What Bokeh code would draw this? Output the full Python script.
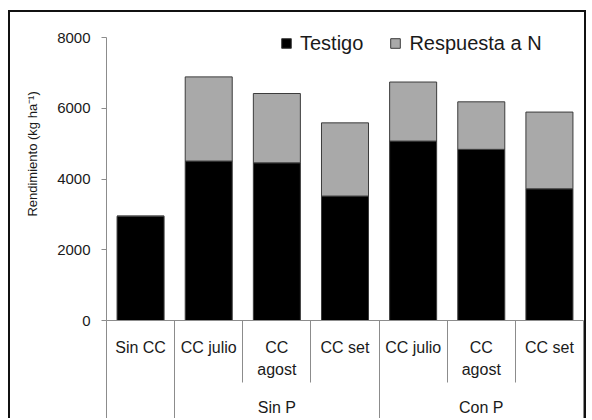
from bokeh.plotting import figure
from bokeh.models import ColumnDataSource, LinearAxis, FixedTicker, Range1d, Legend, LegendItem
from bokeh.embed import file_html
from bokeh.resources import INLINE

# ---- data ----
categories = ["Sin CC", "CC julio", "CC\nagost", "CC set", "CC julio", "CC\nagost", "CC set"]
groups = ["", "Sin P", "Con P"]
group_sizes = [1, 3, 3]
testigo = [2950, 4510, 4460, 3520, 5075, 4840, 3725]
respuesta = [0, 2380, 1960, 2070, 1670, 1345, 2170]
y_ticks = [0, 2000, 4000, 6000, 8000]
series_names = ["Testigo", "Respuesta a N"]
y_label = "Rendimiento (kg ha⁻¹)"

FONT = "Liberation Sans"
TXT = "#1a1a1a"
GRID = "#8c8c8c"

n = len(categories)
xs = list(range(1, n + 1))
source = ColumnDataSource(dict(x=xs, testigo=testigo, respuesta=respuesta))

p = figure(width=578, height=408, x_range=Range1d(0.5, n + 0.5), y_range=Range1d(0, 8400),
           output_backend="svg", toolbar_location=None,
           x_axis_location=None, y_axis_location=None,
           min_border_left=96, min_border_right=5, min_border_top=11, min_border_bottom=100)
p.grid.visible = False
p.outline_line_color = None
p.background_fill_color = "white"
p.border_fill_color = "white"
p.styles = {"margin-left": "8px", "margin-top": "10px",
            "border-top": "2px solid #111", "border-left": "2px solid #111",
            "border-right": "2px solid #111"}

rs = p.vbar_stack(["testigo", "respuesta"], x="x", width=0.69, source=source,
                  fill_color=["black", "#a9a9a9"], line_color="#3c3c3c", line_width=1)

# y axis (label shifted upward with leading no-break spaces, as in the reference)
yaxis = LinearAxis(ticker=FixedTicker(ticks=y_ticks), axis_label="\u00a0" * 10 + y_label,
                   bounds=(y_ticks[0], y_ticks[-1]))
yaxis.axis_line_color = GRID
yaxis.major_tick_line_color = GRID
yaxis.major_tick_out = 5
yaxis.major_tick_in = 0
yaxis.minor_tick_line_color = None
yaxis.major_label_text_font = FONT
yaxis.major_label_text_font_size = "15px"
yaxis.major_label_text_color = TXT
yaxis.major_label_standoff = 11
yaxis.axis_label_text_font = FONT
yaxis.axis_label_text_font_size = "13px"
yaxis.axis_label_text_font_style = "normal"
yaxis.axis_label_text_color = TXT
yaxis.axis_label_standoff = 14
p.add_layout(yaxis, "left")

# category axis
boundaries = [0.5 + i for i in range(n + 1)]
xaxis1 = LinearAxis(ticker=FixedTicker(ticks=xs, minor_ticks=boundaries),
                    major_label_overrides={x: c for x, c in zip(xs, categories)})
xaxis1.axis_line_color = GRID
xaxis1.major_tick_out = 0
xaxis1.major_tick_in = 0
xaxis1.major_tick_line_color = None
xaxis1.minor_tick_line_color = GRID
xaxis1.minor_tick_out = 62
xaxis1.minor_tick_in = 0
xaxis1.major_label_text_font = FONT
xaxis1.major_label_text_font_size = "16px"
xaxis1.major_label_text_color = TXT
xaxis1.major_label_text_line_height = 1.3
xaxis1.major_label_standoff = -44
p.add_layout(xaxis1, "below")

# group axis
g_bounds = [0.5]
g_centers = []
start = 0.5
for s in group_sizes:
    g_centers.append(start + s / 2)
    start += s
    g_bounds.append(start)
xaxis2 = LinearAxis(ticker=FixedTicker(ticks=g_centers, minor_ticks=g_bounds),
                    major_label_overrides={c: g for c, g in zip(g_centers, groups)})
xaxis2.axis_line_color = None
xaxis2.major_tick_out = 0
xaxis2.major_tick_in = 0
xaxis2.major_tick_line_color = None
xaxis2.minor_tick_line_color = GRID
xaxis2.minor_tick_out = 38
xaxis2.minor_tick_in = 0
xaxis2.major_label_text_font = FONT
xaxis2.major_label_text_font_size = "16px"
xaxis2.major_label_text_color = TXT
xaxis2.major_label_standoff = -20
p.add_layout(xaxis2, "below")

legend = Legend(items=[LegendItem(label=series_names[0], renderers=[rs[0]]),
                       LegendItem(label=series_names[1], renderers=[rs[1]])],
                orientation="horizontal", location=(174, 265),
                border_line_color=None, background_fill_alpha=0,
                padding=0, margin=0, glyph_width=12, glyph_height=12,
                label_height=24, label_standoff=8, spacing=26,
                label_text_font=FONT, label_text_font_size="20px", label_text_color=TXT)
p.add_layout(legend)

open("out.html", "w").write(file_html(p, INLINE))
